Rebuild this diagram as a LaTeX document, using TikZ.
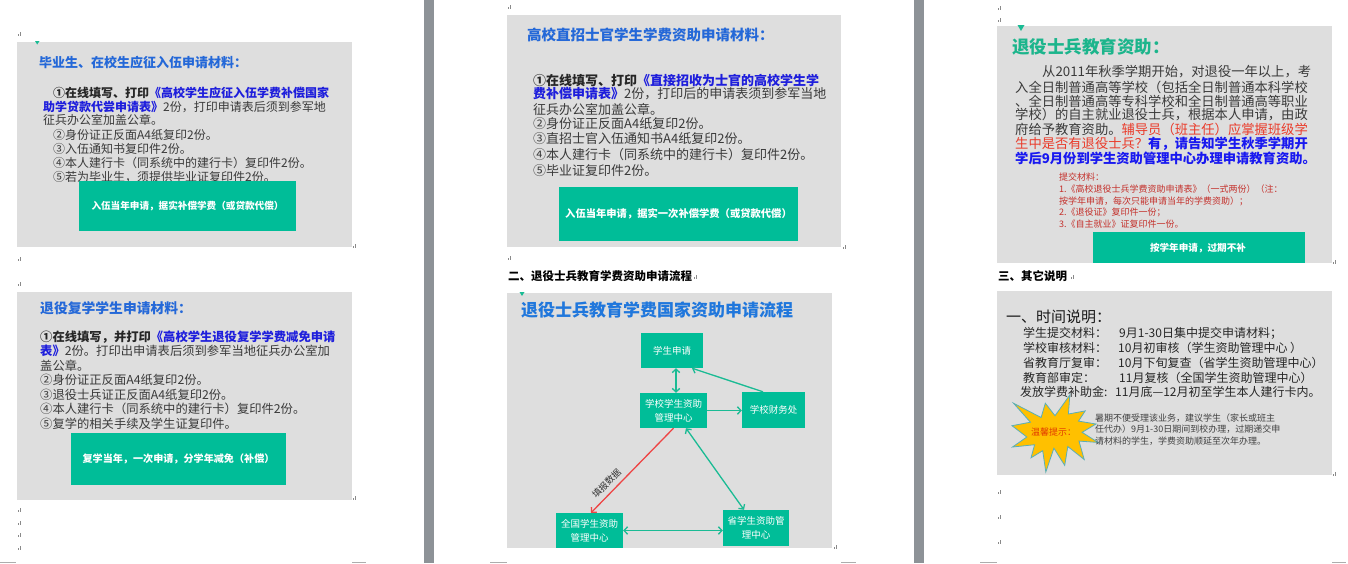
\documentclass[tikz,border=0pt]{standalone}
\usepackage{fontspec}
\setmainfont{Noto Sans CJK SC}
\usetikzlibrary{arrows.meta}
\definecolor{panelgray}{HTML}{DEDEDE}
\definecolor{btngreen}{HTML}{00BD98}
\definecolor{guttergray}{HTML}{8D9297}
\definecolor{titleblue}{HTML}{2468D8}
\definecolor{formblue}{HTML}{1E1EDC}
\definecolor{bodygray}{HTML}{3A3A3A}
\definecolor{alertred}{HTML}{EA3B2A}
\definecolor{noteblue}{HTML}{1818F0}
\definecolor{smallred}{HTML}{C4302B}
\definecolor{tealtitle}{HTML}{1CB58C}
\definecolor{arrowteal}{HTML}{1ABB94}
\definecolor{arrowred}{HTML}{EE4444}
\definecolor{markgray}{HTML}{8A8A8A}
\definecolor{starfill}{HTML}{FFC000}
\definecolor{staredge}{HTML}{5AAFB8}
\definecolor{warnred}{HTML}{E23A00}
\newcommand{\fs}[1]{\fontsize{#1}{#1}\selectfont}
\newcommand{\frm}[1]{\textcolor{formblue}{\bfseries #1}}
\newcommand{\lead}[1]{\textcolor{black!85}{\bfseries #1}}
\newcommand{\pmark}[2]{\fill[markgray] (#1-1.5,#2+1.5) rectangle ++(1.2,-1.2); \fill[markgray] (#1+0.6,#2+2) rectangle ++(0.9,-4.5);}
\tikzset{
  >={Straight Barb[length=3.5pt,width=7.5pt]},
  panel/.style={fill=panelgray},
  gbtn/.style={fill=btngreen, text=white, inner sep=0, font=\fs{10}\bfseries},
  ln/.style={anchor=west, inner sep=0, text=bodygray},
  ttl/.style={anchor=west, inner sep=0, text=titleblue},
  fbox/.style={fill=btngreen, text=white, inner sep=0, align=center, font=\fontsize{9.5}{14}\selectfont},
  farrow/.style={draw=arrowteal, line width=1.3pt},
  corner/.style={draw=markgray!70, line width=1pt},
  tri/.style={fill=arrowteal}
}
\begin{document}
\begin{tikzpicture}[x=1pt,y=-1pt]
\useasboundingbox (0,0) rectangle (1348,563);
\fill[white] (0,0) rectangle (1348,563);
\fill[guttergray] (424,0) rectangle (434,563);
\fill[guttergray] (914,0) rectangle (924,563);

% ---------- LEFT PAGE ----------
\fill[panel] (17,42) rectangle (352,247);
\fill[tri] (35,41) -- (39.5,41) -- (37.2,44.5) -- cycle;
\node[ttl, font=\fs{13}\bfseries] (t1) at (39,63) {毕业生、在校生应征入伍申请材料：};
\node[ln, font=\fs{12}] (a1) at (53,93) {\lead{①在线填写、打印}\frm{《高校学生应征入伍学费补偿国家}};
\node[ln, font=\fs{12}] (a2) at (43,107) {\frm{助学贷款代尝申请表》}2份，打印申请表后须到参军地};
\node[ln, font=\fs{12}] (a3) at (43,120) {征兵办公室加盖公章。};
\node[ln, font=\fs{12}] (a4) at (53,135) {②身份证正反面A4纸复印2份。};
\node[ln, font=\fs{12}] (a5) at (53,149) {③入伍通知书复印件2份。};
\node[ln, font=\fs{12}] (a6) at (53,163) {④本人建行卡（同系统中的建行卡）复印件2份。};
\node[ln, font=\fs{12}] (a7) at (53,177) {⑤若为毕业生，须提供毕业证复印件2份。};
\node[gbtn, minimum width=217pt, minimum height=50pt, font=\fs{9.6}\bfseries] (b1) at (187.5,206) {入伍当年申请，据实补偿学费（或贷款代偿）};

\fill[panel] (17,292) rectangle (352,500);
\node[ttl, font=\fs{13.8}\bfseries] (t2) at (40,308) {退役复学学生申请材料：};
\node[ln, font=\fs{12.3}] (c1) at (40,337) {\lead{①在线填写，并打印}\frm{《高校学生退役复学学费减免申请}};
\node[ln, font=\fs{12.3}] (c2) at (40,351) {\frm{表》}2份。打印出申请表后须到参军当地征兵办公室加};
\node[ln, font=\fs{12.3}] (c3) at (40,366) {盖公章。};
\node[ln, font=\fs{12.3}] (c4) at (40,380) {②身份证正反面A4纸复印2份。};
\node[ln, font=\fs{12.3}] (c5) at (40,395) {③退役士兵证正反面A4纸复印2份。};
\node[ln, font=\fs{12.3}] (c6) at (40,409) {④本人建行卡（同系统中的建行卡）复印件2份。};
\node[ln, font=\fs{12.3}] (c7) at (40,424) {⑤复学的相关手续及学生证复印件。};
\node[gbtn, minimum width=215pt, minimum height=52pt, font=\fs{10.1}\bfseries] (b2) at (178.5,459) {复学当年，一次申请，分学年减免（补偿）};

% ---------- MIDDLE PAGE ----------
\fill[panel] (507,15) rectangle (841,247);
\node[ttl, font=\fs{14.5}\bfseries] (t3) at (527,35) {高校直招士官学生学费资助申请材料：};
\node[ln, font=\fs{13}] (d1) at (533,80) {\lead{①在线填写、打印}\frm{《直接招收为士官的高校学生学}};
\node[ln, font=\fs{13}] (d2) at (533,94) {\frm{费补偿申请表》}2份，打印后的申请表须到参军当地};
\node[ln, font=\fs{13}] (d3) at (533,109) {征兵办公室加盖公章。};
\node[ln, font=\fs{13}] (d4) at (533,124) {②身份证正反面A4纸复印2份。};
\node[ln, font=\fs{13}] (d5) at (533,139) {③直招士官入伍通知书A4纸复印2份。};
\node[ln, font=\fs{13}] (d6) at (533,155) {④本人建行卡（同系统中的建行卡）复印件2份。};
\node[ln, font=\fs{13}] (d7) at (533,171) {⑤毕业证复印件2份。};
\node[gbtn, minimum width=239pt, minimum height=54pt, font=\fs{10.3}\bfseries] (b3) at (678.5,214) {入伍当年申请，据实一次补偿学费（或贷款代偿）};

\node[anchor=west, inner sep=0, font=\fs{11.5}\bfseries] (h2) at (508,276) {二、退役士兵教育学费资助申请流程};

\fill[panel] (507,293) rectangle (832,548);
\fill[tri] (519.5,292) -- (524.5,292) -- (522,296) -- cycle;
\node[ttl, font=\fs{17}\bfseries, text=titleblue!90!cyan] (t4) at (521,310) {退役士兵教育学费国家资助申请流程};
\node[fbox, minimum width=62pt, minimum height=35pt] (sq) at (672,350.5) {学生申请};
\node[fbox, minimum width=67pt, minimum height=35pt] (sc) at (673.5,410.5) {学校学生资助\\管理中心};
\node[fbox, minimum width=63pt, minimum height=36pt] (fin) at (773.5,410) {学校财务处};
\node[fbox, minimum width=67pt, minimum height=35pt] (nat) at (589.5,530.5) {全国学生资助\\管理中心};
\node[fbox, minimum width=66pt, minimum height=36pt] (prov) at (756,528) {省学生资助管\\理中心};
\draw[farrow, <->] ([xshift=4pt]sq.south) -- ([xshift=2.5pt]sc.north);
\draw[farrow, ->] ([xshift=-10.5pt]fin.north) -- ([xshift=20pt]sq.south);
\draw[farrow, ->] (sc.east) -- (sc.east -| fin.west);
\draw[farrow, <->] ([xshift=12.5pt]sc.south) -- ([xshift=-12pt]prov.north);
\draw[farrow, <->] (nat.east) -- (nat.east -| prov.west);
\draw[draw=arrowred, line width=1.3pt, ->] (sc.south) -- ([xshift=1.5pt]nat.north);
\node[rotate=45, inner sep=0, font=\fs{9}, text=black!80] (lbl) at (606.5,483.5) {填报数据};

% ---------- RIGHT PAGE ----------
\fill[panel] (997,26) rectangle (1332,263);
\fill[tri] (1017.5,25) -- (1024.5,25) -- (1021,31) -- cycle;
\node[ttl, font=\fs{17.5}\bfseries, text=tealtitle] (t5) at (1012,47) {退役士兵教育资助：};
\node[ln, font=\fs{13.3}] (e1) at (1042,72) {从2011年秋季学期开始，对退役一年以上，考};
\node[ln, font=\fs{13.3}] (e2) at (1015,87) {入全日制普通高等学校（包括全日制普通本科学校};
\node[ln, font=\fs{13.3}] (e3) at (1015,101) {、全日制普通高等专科学校和全日制普通高等职业};
\node[ln, font=\fs{13.3}] (e4) at (1015,115) {学校）的自主就业退役士兵，根据本人申请，由政};
\node[ln, font=\fs{13.3}] (e5) at (1015,129) {府给予教育资助。\textcolor{alertred}{辅导员（班主任）应掌握班级学}};
\node[ln, font=\fs{13.3}] (e6) at (1015,144) {\textcolor{alertred}{生中是否有退役士兵？}\textcolor{noteblue}{\bfseries 有，请告知学生秋季学期开}};
\node[ln, font=\fs{13.3}\bfseries, text=noteblue] (e7) at (1015,158) {学后9月份到学生资助管理中心办理申请教育资助。};
\node[ln, font=\fs{9}, text=smallred] (f1) at (1059,177) {提交材料：};
\node[ln, font=\fs{9}, text=smallred] (f2) at (1059,189) {1.《高校退役士兵学费资助申请表》（一式两份）（注：};
\node[ln, font=\fs{9}, text=smallred] (f3) at (1059,201) {按学年申请，每次只能申请当年的学费资助）；};
\node[ln, font=\fs{9}, text=smallred] (f4) at (1059,212) {2.《退役证》复印件一份；};
\node[ln, font=\fs{9}, text=smallred] (f5) at (1059,224) {3.《自主就业》证复印件一份。};
\fill[btngreen] (1093,232) rectangle (1305,263);
\node[inner sep=0, text=white, font=\fs{9.6}\bfseries] (b4) at (1198,248) {按学年申请，过期不补};

\node[anchor=west, inner sep=0, font=\fs{11.5}\bfseries] (h3) at (998,276) {三、其它说明};

\fill[panel] (997,291) rectangle (1332,475);
\node[anchor=west, inner sep=0, font=\fs{15}, text=black!90] (t6) at (1006,317) {一、时间说明：};
\node[ln, font=\fs{12}, text=black!85] (g1) at (1023,333) {学生提交材料：};
\node[ln, font=\fs{12}, text=black!85] (g1b) at (1119,333) {9月1-30日集中提交申请材料；};
\node[ln, font=\fs{12}, text=black!85] (g2) at (1023,348) {学校审核材料：};
\node[ln, font=\fs{12}, text=black!85] (g2b) at (1118,348) {10月初审核（学生资助管理中心 ）};
\node[ln, font=\fs{12}, text=black!85] (g3) at (1023,363) {省教育厅复审：};
\node[ln, font=\fs{12}, text=black!85] (g3b) at (1118,363) {10月下旬复查（省学生资助管理中心）};
\node[ln, font=\fs{12}, text=black!85] (g4) at (1023,378) {教育部审定：};
\node[ln, font=\fs{12}, text=black!85] (g4b) at (1119,378) {11月复核（全国学生资助管理中心）};
\node[ln, font=\fs{12}, text=black!85] (g5) at (1020,392) {发放学费补助金:};
\node[ln, font=\fs{12}, text=black!85] (g5b) at (1115,392) {11月底—12月初至学生本人建行卡内。};
\filldraw[fill=starfill, draw=staredge, line width=0.8pt]
  (1055.0,415.7) -- (1069.8,395) -- (1068.4,414.0) -- (1085.2,410.9) -- (1078.5,421.1)
  -- (1096.0,424.0) -- (1082.1,432.3) -- (1098,442.4) -- (1079.0,441.1) -- (1084.2,459.5)
  -- (1067.8,446.5) -- (1064.7,465.4) -- (1053.9,448.2) -- (1045.8,472) -- (1042.7,450.7)
  -- (1031.0,457.8) -- (1034.6,444.7) -- (1012.5,447.0) -- (1026.8,437.0) -- (1012,425.7)
  -- (1030.4,422.2) -- (1013.5,403.2) -- (1041.1,417.5) -- (1045.3,403.2) -- cycle;
\node[inner sep=0, font=\fs{9}, text=warnred] (warn) at (1053.5,432) {温馨提示：};
\node[ln, font=\fs{9}, text=black!75] (k1) at (1095,418) {暑期不便受理该业务，建议学生（家长或班主};
\node[ln, font=\fs{9}, text=black!75] (k2) at (1095,429.5) {任代办）9月1-30日期间到校办理，过期递交申};
\node[ln, font=\fs{9}, text=black!75] (k3) at (1095,441) {请材料的学生，学费资助顺延至次年办理。};

% ---------- page corner marks ----------
\draw[corner] (0,562) -- (16,562);
\draw[corner] (352,562) -- (366,562);
\draw[corner] (490,562) -- (507,562);
\draw[corner] (841,562) -- (856,562);
\draw[corner] (980,562) -- (997,562);
\draw[corner] (1332,562) -- (1346,562);
% paragraph marks
\pmark{19}{34} \pmark{354}{246} \pmark{19}{259} \pmark{19}{284} \pmark{354}{498}
\pmark{19}{510} \pmark{19}{523} \pmark{19}{535} \pmark{19}{548}
\pmark{509}{7} \pmark{844}{247} \pmark{509}{258} \pmark{695}{277} \pmark{835}{547}
\pmark{999}{8} \pmark{999}{20} \pmark{1334}{262} \pmark{1072}{277}
\pmark{1334}{474} \pmark{999}{492} \pmark{999}{517} \pmark{999}{542}
\end{tikzpicture}
\end{document}
